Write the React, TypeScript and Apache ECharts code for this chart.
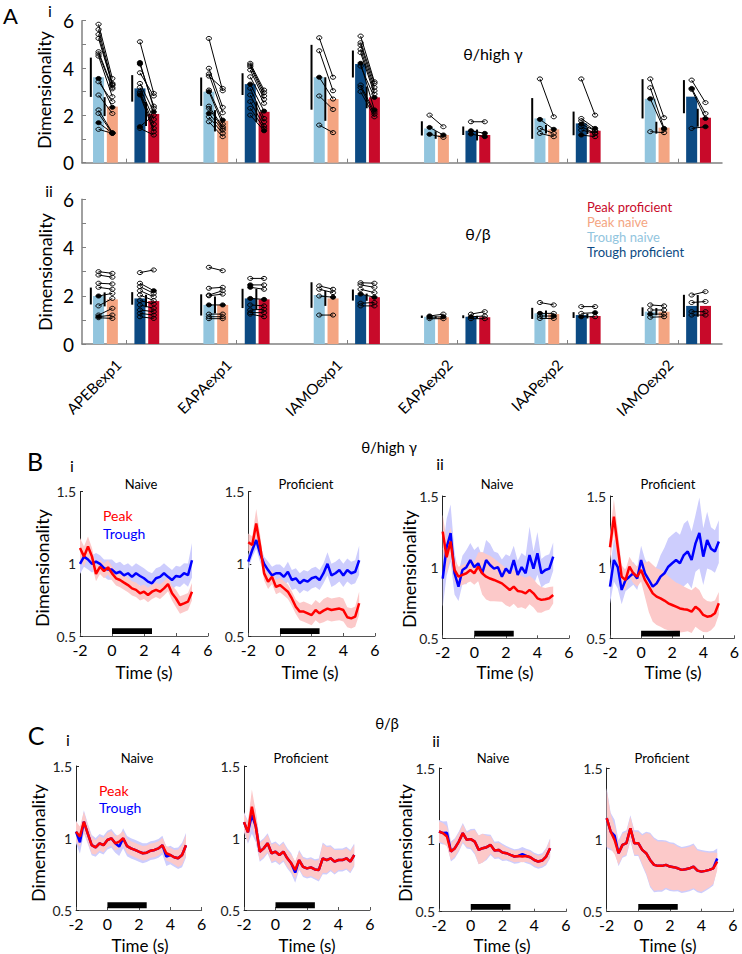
import React, { useEffect, useRef } from 'react';
import * as echarts from 'echarts';

// ---------------- Panel A data ----------------
const expNames = ['APEBexp1', 'EAPAexp1', 'IAMOexp1', 'EAPAexp2', 'IAAPexp2', 'IAMOexp2'];
const expTicks = [1, 2, 3, 4, 5, 6];

// A i : theta / high gamma
const aiMeanTroughNaive = [3.61, 3.0, 3.61, 1.45, 1.87, 2.7];
const aiMeanPeakNaive = [2.37, 1.77, 2.69, 1.17, 1.41, 1.48];
const aiMeanTroughProf = [3.14, 3.32, 4.17, 1.35, 1.66, 2.79];
const aiMeanPeakProf = [2.06, 2.15, 2.76, 1.17, 1.35, 1.9];
const aiSdTroughNaive = [0.83, 0.6, 1.37, 0.3, 0.86, 0.83];
const aiSdPeakNaive = [0.4, 0.45, 0.92, 0.16, 0.18, 0.25];
const aiSdTroughProf = [0.56, 0.46, 0.57, 0.18, 0.5, 0.7];
const aiSdPeakProf = [0.51, 0.43, 0.46, 0.23, 0.14, 0.38];

const aiPtsTroughNaive = [
  [5.85, 5.63, 5.42, 5.25, 4.69, 4.6, 4.5, 3.56, 3.42, 2.86, 2.23, 2.08, 1.69, 1.41],
  [5.25, 3.99, 3.75, 3.66, 3.07, 3.0, 2.39, 2.3, 2.08, 1.94, 1.73],
  [5.28, 4.73, 3.61, 2.82, 1.59],
  [2.01, 1.49, 1.2],
  [3.54, 1.83, 1.45, 1.24],
  [3.54, 3.17, 2.7, 1.31],
];
const aiPtsPeakNaive = [
  [3.56, 3.35, 3.28, 3.3, 3.18, 3.12, 2.79, 2.34, 2.58, 2.08, 1.27, 1.24, 1.25, 1.24],
  [3.04, 2.34, 2.11, 3.14, 1.8, 1.63, 1.52, 1.45, 1.38, 1.24, 1.1],
  [3.61, 3.04, 2.69, 2.25, 1.27],
  [1.52, 1.17, 1.07],
  [1.94, 1.41, 1.24, 1.1],
  [1.9, 1.45, 1.41, 1.27],
];
const aiPtsTroughProf = [
  [5.11, 4.23, 4.17, 3.8, 3.35, 3.18, 3.0, 2.93, 2.86, 1.52, 1.45],
  [4.2, 4.13, 4.06, 3.92, 3.63, 3.32, 3.14, 2.86, 2.58, 2.3, 2.01],
  [5.35, 5.07, 4.97, 4.79, 4.65, 4.2, 4.08, 3.28, 3.18, 3.0],
  [1.73, 1.35, 1.21],
  [3.54, 1.87, 1.77, 1.63, 1.52, 1.38, 1.17],
  [3.49, 3.14, 3.1, 1.45],
];
const aiPtsPeakProf = [
  [2.93, 2.3, 2.39, 2.82, 2.15, 1.83, 1.63, 1.45, 1.31, 2.01, 1.17],
  [3.07, 2.96, 2.82, 2.68, 2.51, 2.18, 1.87, 1.73, 1.55, 1.45, 1.35],
  [3.42, 3.35, 3.18, 3.04, 2.9, 2.23, 2.76, 2.15, 2.05, 1.94],
  [1.73, 1.24, 1.1],
  [2.01, 1.45, 1.35, 1.35, 1.24, 1.24, 1.1],
  [2.54, 2.08, 1.87, 1.52],
];
const aiFilledTroughNaive = [[7, 12], [5, 8], [2], [1, 2], [1], [2]];
const aiFilledPeakNaive = [[7, 10, 11], [4], [], [1], [1], [1]];
const aiFilledTroughProf = [[1, 2, 8, 9], [5], [5], [1, 2], [3, 6], [1]];
const aiFilledPeakProf = [[4], [5, 10], [5, 6], [1, 2], [1], [2, 3]];

// A ii : theta / beta
const aiiMeanTroughNaive = [1.99, 1.62, 2.03, 1.13, 1.27, 1.34];
const aiiMeanPeakNaive = [1.85, 1.62, 1.89, 1.11, 1.24, 1.34];
const aiiMeanTroughProf = [1.89, 1.89, 2.03, 1.13, 1.2, 1.58];
const aiiMeanPeakProf = [1.78, 1.85, 1.94, 1.11, 1.16, 1.58];
const aiiSdTroughNaive = [0.35, 0.44, 0.53, 0.05, 0.23, 0.18];
const aiiSdPeakNaive = [0.29, 0.35, 0.31, 0.04, 0.15, 0.15];
const aiiSdTroughProf = [0.26, 0.4, 0.23, 0.06, 0.12, 0.46];
const aiiSdPeakProf = [0.26, 0.43, 0.15, 0.06, 0.1, 0.45];

const aiiPtsTroughNaive = [
  [3.0, 2.86, 2.52, 2.35, 1.99, 1.58, 1.2, 1.13, 1.09],
  [3.18, 2.31, 2.03, 2.0, 1.62, 1.24, 1.13, 1.05],
  [2.41, 2.27, 1.99, 1.2],
  [1.16, 1.11, 1.05],
  [1.72, 1.27, 1.16, 1.06],
  [1.62, 1.41, 1.24, 1.11],
];
const aiiPtsPeakNaive = [
  [2.93, 2.77, 2.49, 2.27, 2.1, 1.89, 1.48, 1.2, 1.06],
  [3.04, 2.35, 2.21, 2.07, 1.62, 1.24, 1.13, 1.05],
  [2.27, 2.13, 1.94, 1.2],
  [1.24, 1.13, 1.05],
  [1.62, 1.27, 1.16, 1.06],
  [1.58, 1.41, 1.24, 1.13],
];
const aiiPtsTroughProf = [
  [2.96, 2.52, 2.38, 2.21, 2.03, 1.8, 1.62, 1.41, 1.27, 1.13],
  [2.72, 2.45, 2.35, 1.89, 1.62, 1.41, 1.3, 1.24],
  [2.54, 2.45, 2.27, 2.07, 1.69, 1.58],
  [1.24, 1.13, 1.05],
  [1.55, 1.27, 1.13],
  [2.03, 1.72, 1.34, 1.2],
];
const aiiPtsPeakProf = [
  [3.07, 2.21, 2.1, 1.96, 1.8, 1.66, 1.48, 1.34, 1.2, 1.06],
  [2.72, 2.45, 2.27, 1.85, 1.58, 1.44, 1.3, 1.13],
  [2.52, 2.35, 2.13, 1.94, 1.72, 1.58],
  [1.34, 1.16, 1.05],
  [1.55, 1.3, 1.13],
  [2.17, 1.76, 1.34, 1.2],
];
const aiiFilledTroughNaive = [[4, 7], [4], [], [0, 1], [1], [2]];
const aiiFilledPeakNaive = [[], [4], [2], [1], [2], []];
const aiiFilledTroughProf = [[], [1, 2, 3], [3], [1], [2], []];
const aiiFilledPeakProf = [[1], [3], [3], [], [1], []];

// ---------------- Panels B / C data ----------------
const timeS = [-2, -1.75, -1.5, -1.25, -1, -0.75, -0.5, -0.25, 0, 0.25, 0.5, 0.75, 1, 1.25, 1.5, 1.75, 2, 2.25, 2.5, 2.75, 3, 3.25, 3.5, 3.75, 4, 4.25, 4.5, 4.75, 5];
const stimOn = 0;
const stimOff = 2.5;

// B i naive
const biNaivePeak = [1.11, 1.05, 1.12, 1.05, 0.93, 0.98, 0.95, 0.976, 0.934, 0.9, 0.888, 0.87, 0.853, 0.83, 0.82, 0.796, 0.807, 0.784, 0.807, 0.82, 0.807, 0.83, 0.86, 0.796, 0.76, 0.715, 0.726, 0.738, 0.807];
const biNaivePeakErr = [0.07, 0.07, 0.07, 0.06, 0.05, 0.05, 0.05, 0.05, 0.05, 0.05, 0.05, 0.05, 0.05, 0.05, 0.05, 0.05, 0.05, 0.05, 0.05, 0.05, 0.05, 0.05, 0.05, 0.05, 0.06, 0.06, 0.06, 0.06, 0.06];
const biNaiveTrough = [1.0, 1.05, 1.03, 1.0, 1.015, 1.0, 0.97, 0.96, 0.96, 0.935, 0.945, 0.92, 0.935, 0.91, 0.935, 0.916, 0.9, 0.877, 0.865, 0.9, 0.91, 0.935, 0.91, 0.888, 0.916, 0.91, 0.935, 0.922, 1.025];
const biNaiveTroughErr = [0.07, 0.07, 0.07, 0.06, 0.06, 0.06, 0.06, 0.07, 0.07, 0.07, 0.07, 0.07, 0.07, 0.07, 0.07, 0.07, 0.07, 0.07, 0.07, 0.07, 0.07, 0.07, 0.07, 0.07, 0.07, 0.07, 0.07, 0.08, 0.12];
// B i proficient
const biProfPeak = [1.15, 1.13, 1.28, 1.12, 0.934, 0.876, 0.91, 0.84, 0.853, 0.83, 0.807, 0.76, 0.703, 0.669, 0.669, 0.657, 0.645, 0.68, 0.657, 0.676, 0.69, 0.68, 0.685, 0.69, 0.68, 0.63, 0.622, 0.634, 0.727];
const biProfPeakErr = [0.06, 0.06, 0.1, 0.08, 0.05, 0.05, 0.05, 0.05, 0.05, 0.05, 0.05, 0.05, 0.05, 0.06, 0.07, 0.07, 0.07, 0.07, 0.07, 0.08, 0.08, 0.08, 0.08, 0.08, 0.08, 0.07, 0.07, 0.07, 0.08];
const biProfTrough = [1.015, 1.096, 1.165, 1.07, 1.0, 0.957, 0.92, 0.935, 0.935, 0.91, 0.945, 0.888, 0.9, 0.865, 0.888, 0.877, 0.9, 0.91, 0.888, 0.935, 1.0, 0.92, 0.935, 0.957, 0.92, 0.957, 0.935, 0.945, 1.025];
const biProfTroughErr = [0.05, 0.05, 0.06, 0.06, 0.05, 0.06, 0.06, 0.06, 0.06, 0.06, 0.07, 0.07, 0.07, 0.07, 0.07, 0.07, 0.07, 0.07, 0.07, 0.07, 0.08, 0.08, 0.08, 0.08, 0.08, 0.08, 0.08, 0.08, 0.1];
// B ii naive
const biiNaivePeak = [1.25, 1.07, 1.18, 0.98, 0.933, 0.945, 0.957, 0.98, 0.957, 1.003, 0.957, 0.933, 0.92, 0.91, 0.898, 0.886, 0.863, 0.84, 0.863, 0.833, 0.828, 0.816, 0.84, 0.816, 0.781, 0.77, 0.774, 0.781, 0.804];
const biiNaivePeakErr = [0.12, 0.12, 0.1, 0.08, 0.07, 0.07, 0.07, 0.08, 0.08, 0.1, 0.15, 0.16, 0.16, 0.15, 0.14, 0.13, 0.13, 0.12, 0.12, 0.12, 0.11, 0.11, 0.1, 0.1, 0.1, 0.09, 0.08, 0.08, 0.06];
const biiNaiveTrough = [0.92, 1.14, 1.24, 0.957, 0.863, 0.98, 1.0, 1.05, 1.0, 1.027, 0.957, 1.05, 1.015, 0.99, 1.0, 0.933, 0.99, 0.957, 1.05, 0.945, 1.0, 0.957, 1.085, 0.99, 1.097, 0.957, 0.98, 0.99, 1.074];
const biiNaiveTroughErr = [0.2, 0.2, 0.2, 0.15, 0.1, 0.1, 0.12, 0.12, 0.12, 0.12, 0.12, 0.14, 0.15, 0.12, 0.1, 0.12, 0.1, 0.12, 0.1, 0.1, 0.1, 0.12, 0.2, 0.12, 0.15, 0.1, 0.1, 0.1, 0.1];
// B ii proficient
const biiProfPeak = [1.14, 1.355, 1.14, 0.933, 0.91, 1.003, 0.957, 0.933, 0.98, 0.91, 0.863, 0.816, 0.793, 0.781, 0.765, 0.746, 0.734, 0.722, 0.71, 0.704, 0.7, 0.687, 0.722, 0.7, 0.664, 0.652, 0.657, 0.676, 0.746];
const biiProfPeakErr = [0.1, 0.12, 0.12, 0.08, 0.07, 0.07, 0.07, 0.07, 0.08, 0.12, 0.18, 0.2, 0.2, 0.2, 0.2, 0.19, 0.18, 0.17, 0.17, 0.16, 0.15, 0.15, 0.14, 0.14, 0.12, 0.11, 0.1, 0.09, 0.08];
const biiProfTrough = [0.863, 1.05, 1.0, 0.84, 0.91, 0.933, 0.957, 0.92, 1.05, 0.957, 0.91, 0.863, 0.886, 0.933, 0.957, 1.003, 1.027, 1.05, 1.027, 1.085, 1.11, 1.05, 1.167, 1.24, 1.074, 1.19, 1.13, 1.11, 1.18];
const biiProfTroughErr = [0.12, 0.15, 0.15, 0.1, 0.08, 0.08, 0.08, 0.08, 0.1, 0.1, 0.1, 0.1, 0.12, 0.15, 0.18, 0.2, 0.2, 0.2, 0.2, 0.22, 0.22, 0.2, 0.2, 0.25, 0.2, 0.2, 0.15, 0.15, 0.15];

// C i naive
const ciNaivePeak = [1.044, 1.01, 1.113, 1.03, 0.95, 0.935, 0.963, 0.95, 0.986, 0.998, 0.963, 0.975, 0.998, 0.944, 0.928, 0.917, 0.905, 0.894, 0.898, 0.912, 0.917, 0.928, 0.95, 0.894, 0.882, 0.866, 0.859, 0.882, 0.95];
const ciNaivePeakErr = [0.07, 0.07, 0.07, 0.06, 0.06, 0.05, 0.05, 0.05, 0.05, 0.05, 0.05, 0.05, 0.05, 0.05, 0.05, 0.05, 0.05, 0.05, 0.05, 0.05, 0.05, 0.05, 0.05, 0.05, 0.05, 0.05, 0.06, 0.07, 0.07];
const ciNaiveTrough = [1.044, 0.97, 1.113, 1.03, 0.95, 0.935, 0.963, 0.95, 0.986, 0.998, 0.963, 0.94, 0.998, 0.944, 0.928, 0.917, 0.905, 0.894, 0.898, 0.912, 0.917, 0.928, 0.95, 0.87, 0.882, 0.866, 0.859, 0.882, 0.95];
const ciNaiveTroughErr = [0.08, 0.08, 0.08, 0.07, 0.07, 0.065, 0.065, 0.065, 0.065, 0.065, 0.065, 0.065, 0.07, 0.07, 0.07, 0.07, 0.07, 0.07, 0.065, 0.065, 0.065, 0.065, 0.065, 0.065, 0.065, 0.065, 0.075, 0.085, 0.085];
// C i proficient
const ciProfPeak = [1.11, 1.04, 1.217, 1.08, 0.905, 0.928, 0.963, 0.894, 0.905, 0.882, 0.905, 0.859, 0.824, 0.778, 0.847, 0.8, 0.789, 0.796, 0.782, 0.778, 0.859, 0.847, 0.859, 0.836, 0.847, 0.847, 0.859, 0.836, 0.882];
const ciProfPeakErr = [0.06, 0.07, 0.12, 0.1, 0.06, 0.06, 0.06, 0.06, 0.06, 0.06, 0.06, 0.06, 0.06, 0.06, 0.06, 0.06, 0.06, 0.06, 0.06, 0.07, 0.1, 0.09, 0.08, 0.08, 0.07, 0.07, 0.07, 0.07, 0.07];
const ciProfTrough = [1.11, 1.04, 1.16, 1.08, 0.905, 0.928, 0.963, 0.894, 0.905, 0.882, 0.905, 0.859, 0.824, 0.76, 0.847, 0.8, 0.789, 0.796, 0.782, 0.778, 0.859, 0.847, 0.859, 0.836, 0.847, 0.847, 0.859, 0.836, 0.882];
const ciProfTroughErr = [0.07, 0.08, 0.13, 0.11, 0.07, 0.07, 0.07, 0.07, 0.07, 0.07, 0.07, 0.07, 0.07, 0.07, 0.07, 0.07, 0.07, 0.07, 0.07, 0.08, 0.11, 0.1, 0.09, 0.09, 0.08, 0.08, 0.08, 0.08, 0.08];
// C ii naive
const ciiNaivePeak = [1.058, 1.047, 1.023, 0.919, 0.942, 0.988, 1.047, 1.0, 1.005, 0.988, 0.93, 0.942, 0.949, 0.965, 0.926, 0.93, 0.912, 0.907, 0.895, 0.884, 0.888, 0.884, 0.888, 0.879, 0.86, 0.849, 0.856, 0.884, 0.942];
const ciiNaivePeakErr = [0.07, 0.07, 0.07, 0.06, 0.06, 0.06, 0.06, 0.05, 0.06, 0.08, 0.1, 0.1, 0.08, 0.06, 0.05, 0.05, 0.05, 0.04, 0.04, 0.04, 0.04, 0.04, 0.04, 0.04, 0.04, 0.04, 0.04, 0.05, 0.06];
const ciiNaiveTrough = [1.058, 1.047, 1.05, 0.919, 0.942, 0.988, 1.047, 1.0, 1.005, 0.988, 0.93, 0.942, 0.949, 0.965, 0.926, 0.93, 0.912, 0.907, 0.895, 0.884, 0.888, 0.9, 0.888, 0.879, 0.86, 0.849, 0.856, 0.884, 0.942];
const ciiNaiveTroughErr = [0.08, 0.08, 0.08, 0.07, 0.07, 0.07, 0.07, 0.06, 0.07, 0.09, 0.1, 0.1, 0.09, 0.07, 0.06, 0.06, 0.06, 0.05, 0.05, 0.05, 0.05, 0.05, 0.05, 0.05, 0.05, 0.05, 0.05, 0.06, 0.07];
// C ii proficient
const ciiProfPeak = [1.151, 1.058, 1.0, 0.907, 0.965, 0.977, 1.081, 0.977, 0.977, 0.93, 0.907, 0.86, 0.826, 0.819, 0.819, 0.826, 0.814, 0.81, 0.802, 0.791, 0.795, 0.802, 0.814, 0.786, 0.779, 0.784, 0.791, 0.802, 0.849];
const ciiProfPeakErr = [0.2, 0.12, 0.1, 0.08, 0.08, 0.08, 0.08, 0.08, 0.08, 0.1, 0.14, 0.18, 0.18, 0.17, 0.17, 0.16, 0.16, 0.16, 0.15, 0.15, 0.15, 0.15, 0.15, 0.14, 0.14, 0.13, 0.12, 0.11, 0.06];
const ciiProfTrough = [1.151, 1.058, 1.03, 0.907, 0.965, 0.977, 1.081, 0.977, 0.977, 0.93, 0.907, 0.86, 0.826, 0.819, 0.819, 0.826, 0.814, 0.81, 0.802, 0.791, 0.795, 0.802, 0.814, 0.786, 0.779, 0.784, 0.791, 0.802, 0.87];
const ciiProfTroughErr = [0.21, 0.13, 0.11, 0.09, 0.09, 0.09, 0.09, 0.09, 0.09, 0.11, 0.15, 0.19, 0.19, 0.18, 0.18, 0.17, 0.17, 0.17, 0.16, 0.16, 0.16, 0.16, 0.16, 0.15, 0.15, 0.14, 0.13, 0.12, 0.07];

// ---------------- Styling ----------------
const FF = 'Lato, "Open Sans", "DejaVu Sans", sans-serif';
const COL_TN = '#92c5de';
const COL_PN = '#f4a582';
const COL_TP = '#0c4a83';
const COL_PP = '#c80a2a';
const OFF_TN = -0.25;
const OFF_PN = -0.125;
const OFF_TP = 0.125;
const OFF_PP = 0.25;
const RED = '#ff0000';
const BLUE = '#0000ff';
const BAND_RED = '#fcc9c9';
const BAND_BLUE = '#cdcdfd';

function barSeries(g: number, means: number[], sds: number[], off: number, color: string) {
  return {
    type: 'custom',
    xAxisIndex: g,
    yAxisIndex: g,
    z: 2,
    silent: true,
    data: means.map((m, i) => [expTicks[i] + off, m, sds[i]]),
    renderItem: (params: any, api: any) => {
      const x = api.value(0);
      const m = api.value(1);
      const s = api.value(2);
      const tl = api.coord([x - 0.05, m]);
      const br = api.coord([x + 0.05, 0]);
      const e1 = api.coord([x - 0.07, m + s]);
      const e2 = api.coord([x - 0.07, m - s]);
      return {
        type: 'group',
        children: [
          { type: 'rect', shape: { x: tl[0], y: tl[1], width: br[0] - tl[0], height: br[1] - tl[1] }, style: { fill: color } },
          { type: 'line', shape: { x1: e1[0], y1: e1[1], x2: e2[0], y2: e2[1] }, style: { stroke: '#000', lineWidth: 2 } },
        ],
      };
    },
  };
}

function pairSeries(g: number, ptsA: number[][], ptsB: number[][], filA: number[][], filB: number[][], offA: number, offB: number) {
  const data: number[][] = [];
  ptsA.forEach((arr, i) => {
    arr.forEach((v, j) => {
      const w = ptsB[i][j];
      data.push([expTicks[i] + offA, v, expTicks[i] + offB, w, filA[i].includes(j) ? 1 : 0, filB[i].includes(j) ? 1 : 0]);
    });
  });
  return {
    type: 'custom',
    xAxisIndex: g,
    yAxisIndex: g,
    z: 3,
    silent: true,
    data,
    renderItem: (params: any, api: any) => {
      const p1 = api.coord([api.value(0), api.value(1)]);
      const p2 = api.coord([api.value(2), api.value(3)]);
      const f1 = api.value(4) === 1;
      const f2 = api.value(5) === 1;
      return {
        type: 'group',
        children: [
          { type: 'line', shape: { x1: p1[0], y1: p1[1], x2: p2[0], y2: p2[1] }, style: { stroke: '#000', lineWidth: 1 } },
          { type: 'ellipse', shape: { cx: p1[0], cy: p1[1], rx: 2.6, ry: 2 }, style: { fill: f1 ? '#000' : 'none', stroke: '#000', lineWidth: 1 } },
          { type: 'ellipse', shape: { cx: p2[0], cy: p2[1], rx: 2.6, ry: 2 }, style: { fill: f2 ? '#000' : 'none', stroke: '#000', lineWidth: 1 } },
        ],
      };
    },
  };
}

function bandSeries(g: number, mean: number[], err: number[], color: string, z: number) {
  return {
    type: 'custom',
    xAxisIndex: g,
    yAxisIndex: g,
    z,
    clip: true,
    silent: true,
    data: [[timeS[0], mean[0]]],
    renderItem: (params: any, api: any) => {
      const up = timeS.map((t, i) => api.coord([t, Math.min(1.5, mean[i] + err[i])]));
      const lo = timeS.map((t, i) => api.coord([t, Math.max(0.5, mean[i] - err[i])])).reverse();
      return { type: 'polygon', shape: { points: up.concat(lo) }, style: { fill: color } };
    },
  };
}

function lineSeries(g: number, mean: number[], color: string, z: number) {
  return {
    type: 'line',
    xAxisIndex: g,
    yAxisIndex: g,
    z,
    silent: true,
    showSymbol: false,
    symbol: 'none',
    data: timeS.map((t, i) => [t, mean[i]]),
    lineStyle: { color, width: 2.5 },
    itemStyle: { color },
  };
}

function stimSeries(g: number) {
  return {
    type: 'custom',
    xAxisIndex: g,
    yAxisIndex: g,
    z: 6,
    silent: true,
    data: [[stimOn, stimOff]],
    renderItem: (params: any, api: any) => {
      const a = api.coord([api.value(0), 0.553]);
      const b = api.coord([api.value(1), 0.513]);
      return { type: 'rect', shape: { x: a[0], y: a[1], width: b[0] - a[0], height: b[1] - a[1] }, style: { fill: '#000' } };
    },
  };
}

function txt(text: string, x: number, y: number, size: number, opts: any = {}) {
  return {
    type: 'text',
    x,
    y,
    rotation: opts.rotation || 0,
    silent: true,
    z: 10,
    style: {
      text,
      fill: opts.color || '#000',
      fontSize: size,
      fontFamily: FF,
      fontWeight: 'normal',
      align: opts.align || 'center',
      verticalAlign: 'middle',
    },
  };
}

function buildOption() {
  const gridBoxes = [
    [82, 20.7, 640, 142],
    [82, 199.3, 640, 144.7],
    [80, 491.7, 128, 144.3],
    [248.3, 491.7, 126.7, 144.3],
    [442.7, 496, 126.3, 142.3],
    [610, 496, 126.7, 142.3],
    [76, 766, 125.7, 144],
    [244, 766, 126, 144],
    [439, 768, 127, 143.7],
    [606.7, 768, 126.3, 143.7],
  ];
  const grid = gridBoxes.map((b) => ({ left: b[0], top: b[1], width: b[2], height: b[3], containLabel: false }));

  const xAxis: any[] = [];
  const yAxis: any[] = [];
  for (let g = 0; g < 2; g++) {
    xAxis.push({
      gridIndex: g,
      type: 'value',
      min: 0.6,
      max: 6.4,
      axisLine: { show: true, lineStyle: { color: '#808080', width: 1.5 } },
      axisTick: { show: true, inside: true, length: 4, customValues: expTicks, lineStyle: { color: '#808080' } },
      axisLabel:
        g === 1
          ? {
              show: true,
              customValues: expTicks,
              rotate: 45,
              fontSize: 15,
              fontFamily: FF,
              color: '#000',
              margin: 10,
              padding: [0, 11, 0, 0],
              formatter: (v: number) => (Number.isInteger(v) && v >= 1 && v <= 6 ? expNames[v - 1] : ''),
            }
          : { show: false },
      splitLine: { show: false },
    });
    yAxis.push({
      gridIndex: g,
      type: 'value',
      min: 0,
      max: 6,
      interval: 1,
      axisLine: { show: true, lineStyle: { color: '#808080', width: 1.5 } },
      axisTick: { show: true, inside: true, length: 4, lineStyle: { color: '#808080' } },
      axisLabel: { fontSize: 19, fontFamily: FF, color: '#000', margin: 8, formatter: (v: number) => (v % 2 === 0 ? String(v) : '') },
      splitLine: { show: false },
    });
  }
  for (let g = 2; g < 10; g++) {
    xAxis.push({
      gridIndex: g,
      type: 'value',
      min: -2,
      max: 6,
      interval: 2,
      axisLine: { show: true, onZero: false, lineStyle: { color: '#555', width: 1 } },
      axisTick: { show: true, inside: true, length: 3, lineStyle: { color: '#555' } },
      axisLabel: { fontSize: 16, fontFamily: FF, color: '#000', margin: 5 },
      splitLine: { show: false },
    });
    yAxis.push({
      gridIndex: g,
      type: 'value',
      min: 0.5,
      max: 1.5,
      interval: 0.5,
      axisLine: { show: true, onZero: false, lineStyle: { color: '#222', width: 1 } },
      axisTick: { show: true, inside: true, length: 3, lineStyle: { color: '#222' } },
      axisLabel: { fontSize: 14, fontFamily: FF, color: '#222', margin: 4 },
      splitLine: { show: false },
    });
  }

  const series: any[] = [
    barSeries(0, aiMeanTroughNaive, aiSdTroughNaive, OFF_TN, COL_TN),
    barSeries(0, aiMeanPeakNaive, aiSdPeakNaive, OFF_PN, COL_PN),
    barSeries(0, aiMeanTroughProf, aiSdTroughProf, OFF_TP, COL_TP),
    barSeries(0, aiMeanPeakProf, aiSdPeakProf, OFF_PP, COL_PP),
    pairSeries(0, aiPtsTroughNaive, aiPtsPeakNaive, aiFilledTroughNaive, aiFilledPeakNaive, OFF_TN, OFF_PN),
    pairSeries(0, aiPtsTroughProf, aiPtsPeakProf, aiFilledTroughProf, aiFilledPeakProf, OFF_TP, OFF_PP),
    barSeries(1, aiiMeanTroughNaive, aiiSdTroughNaive, OFF_TN, COL_TN),
    barSeries(1, aiiMeanPeakNaive, aiiSdPeakNaive, OFF_PN, COL_PN),
    barSeries(1, aiiMeanTroughProf, aiiSdTroughProf, OFF_TP, COL_TP),
    barSeries(1, aiiMeanPeakProf, aiiSdPeakProf, OFF_PP, COL_PP),
    pairSeries(1, aiiPtsTroughNaive, aiiPtsPeakNaive, aiiFilledTroughNaive, aiiFilledPeakNaive, OFF_TN, OFF_PN),
    pairSeries(1, aiiPtsTroughProf, aiiPtsPeakProf, aiiFilledTroughProf, aiiFilledPeakProf, OFF_TP, OFF_PP),
  ];

  const panels = [
    [biNaivePeak, biNaivePeakErr, biNaiveTrough, biNaiveTroughErr],
    [biProfPeak, biProfPeakErr, biProfTrough, biProfTroughErr],
    [biiNaivePeak, biiNaivePeakErr, biiNaiveTrough, biiNaiveTroughErr],
    [biiProfPeak, biiProfPeakErr, biiProfTrough, biiProfTroughErr],
    [ciNaivePeak, ciNaivePeakErr, ciNaiveTrough, ciNaiveTroughErr],
    [ciProfPeak, ciProfPeakErr, ciProfTrough, ciProfTroughErr],
    [ciiNaivePeak, ciiNaivePeakErr, ciiNaiveTrough, ciiNaiveTroughErr],
    [ciiProfPeak, ciiProfPeakErr, ciiProfTrough, ciiProfTroughErr],
  ];
  panels.forEach((p, k) => {
    const g = k + 2;
    series.push(bandSeries(g, p[2], p[3], BAND_BLUE, 1));
    series.push(bandSeries(g, p[0], p[1], BAND_RED, 2));
    series.push(lineSeries(g, p[2], BLUE, 4));
    series.push(lineSeries(g, p[0], RED, 5));
    series.push(stimSeries(g));
  });

  const graphic: any[] = [
    // Panel A
    txt('A', 3, 15, 22, { align: 'left' }),
    txt('i', 50, 10, 16),
    txt('ii', 49, 190, 16),
    txt('Dimensionality', 44, 90, 18, { rotation: Math.PI / 2 }),
    txt('Dimensionality', 45, 272, 18, { rotation: Math.PI / 2 }),
    txt('θ/high γ', 493, 53, 16),
    txt('θ/β', 478, 233, 16),
    txt('Peak proficient', 587, 207, 13, { align: 'left', color: COL_PP }),
    txt('Peak naive', 587, 222, 13, { align: 'left', color: COL_PN }),
    txt('Trough naive', 587, 237, 13, { align: 'left', color: COL_TN }),
    txt('Trough proficient', 587, 252, 13, { align: 'left', color: COL_TP }),
    // Panel B
    txt('B', 35, 461, 25),
    txt('i', 72, 465, 16),
    txt('ii', 440, 463, 16),
    txt('θ/high γ', 389, 447, 15),
    txt('Naive', 141, 484, 13),
    txt('Proficient', 306, 484, 13),
    txt('Naive', 497, 484, 13),
    txt('Proficient', 668, 484, 13),
    txt('Dimensionality', 42, 568, 18, { rotation: Math.PI / 2 }),
    txt('Dimensionality', 409, 569, 18, { rotation: Math.PI / 2 }),
    txt('Time (s)', 144, 672, 17),
    txt('Time (s)', 310, 672, 17),
    txt('Time (s)', 505, 672, 17),
    txt('Time (s)', 673, 672, 17),
    txt('Peak', 103, 515, 14, { align: 'left', color: RED }),
    txt('Trough', 103, 533, 14, { align: 'left', color: BLUE }),
    // Panel C
    txt('C', 36, 735, 25),
    txt('i', 68, 739, 16),
    txt('ii', 436, 740, 16),
    txt('θ/β', 387, 723, 15),
    txt('Naive', 137, 758, 13),
    txt('Proficient', 301, 758, 13),
    txt('Naive', 493, 758, 13),
    txt('Proficient', 662, 758, 13),
    txt('Dimensionality', 38, 843, 18, { rotation: Math.PI / 2 }),
    txt('Dimensionality', 405, 843, 18, { rotation: Math.PI / 2 }),
    txt('Time (s)', 140, 945, 17),
    txt('Time (s)', 307, 945, 17),
    txt('Time (s)', 502, 945, 17),
    txt('Time (s)', 668, 945, 17),
    txt('Peak', 99, 790, 14, { align: 'left', color: RED }),
    txt('Trough', 99, 807, 14, { align: 'left', color: BLUE }),
  ];

  return {
    animation: false,
    backgroundColor: '#ffffff',
    textStyle: { fontFamily: FF },
    grid,
    xAxis,
    yAxis,
    series,
    graphic,
  };
}

export default function App() {
  const ref = useRef<HTMLDivElement>(null);
  useEffect(() => {
    if (!ref.current) return;
    const chart = echarts.init(ref.current, null, { renderer: 'svg', width: 742, height: 954 });
    chart.setOption(buildOption() as any);
    return () => chart.dispose();
  }, []);
  return (
    <div
      ref={ref}
      style={{ position: 'absolute', left: 0, top: 0, width: 742, height: 954, background: '#fff' }}
    />
  );
}
